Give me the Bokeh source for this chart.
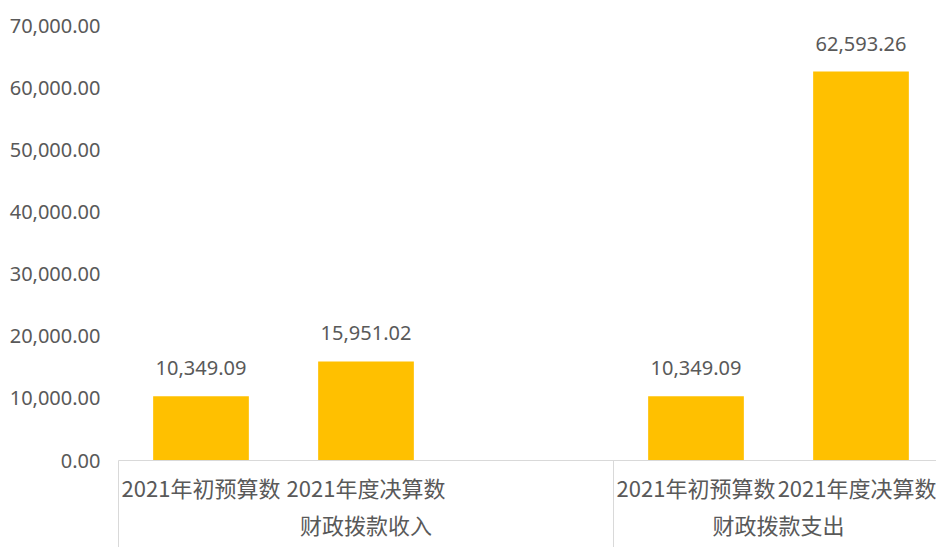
from bokeh.plotting import figure
from bokeh.models import (ColumnDataSource, LabelSet, FixedTicker, NumeralTickFormatter,
                          Range1d, LinearAxis)
from bokeh.core.properties import value
from bokeh.embed import file_html
from bokeh.resources import INLINE

groups = ["财政拨款收入", "财政拨款收入", "财政拨款支出", "财政拨款支出"]
items = ["2021年初预算数", "2021年度决算数", "2021年初预算数", "2021年度决算数"]
values = [10349.09, 15951.02, 10349.09, 62593.26]
group_names = ["财政拨款收入", "财政拨款支出"]
group_slots = [3, 2]          # category slots per group (group 1 keeps one empty slot)
y_ticks = [0, 10000, 20000, 30000, 40000, 50000, 60000, 70000]

# category slot layout -> x positions on the axis scale
group_start, group_center = [], []
acc = 0
for n in group_slots:
    group_start.append(float(acc))
    group_center.append(acc + n / 2)
    acc += n
xpos = []
seen = {}
for g in groups:
    gi = group_names.index(g)
    k = seen.get(g, 0)
    seen[g] = k + 1
    xpos.append(group_start[gi] + k + 0.5)

src = ColumnDataSource(dict(x=xpos, top=values, label=[f"{v:,.2f}" for v in values]))

W, H = 936, 547
SLOT = 165.0
ORIGIN = 118.0          # page x of the first slot's left edge
AXIS_Y = 460.0          # page y of value 0
TOP_Y = 25.0            # page y of value 70000
Y_MAX = 70000
LEFT = ORIGIN - 1
x_start = -(ORIGIN - LEFT) / SLOT
x_end = (W - ORIGIN) / SLOT
y_min = -(H - AXIS_Y) * Y_MAX / (AXIS_Y - TOP_Y)

NUM_FONT = "Noto Sans"
CJK_FONT = "Noto Sans CJK SC"
TXT = "#595959"
GRID = "#D9D9D9"

p = figure(x_range=Range1d(x_start, x_end), y_range=Range1d(y_min, Y_MAX), width=W, height=H,
           output_backend="svg", toolbar_location=None,
           min_border_left=int(LEFT), min_border_right=0,
           min_border_top=int(TOP_Y), min_border_bottom=0)
p.outline_line_color = None
p.xgrid.grid_line_color = None
p.ygrid.grid_line_color = None

p.vbar(x="x", top="top", width=0.58, source=src, color="#FFC000", line_color=None)

labels = LabelSet(x="x", y="top", text="label", source=src, text_align="center",
                  text_baseline="middle", y_offset=28, text_font=value(NUM_FONT),
                  text_font_size="20px", text_color=TXT)
p.add_layout(labels)

ya = p.yaxis[0]
ya.ticker = FixedTicker(ticks=y_ticks)
ya.formatter = NumeralTickFormatter(format="0,0.00")
ya.axis_line_color = None
ya.major_tick_line_color = None
ya.minor_tick_line_color = None
ya.major_tick_out = 0
ya.major_tick_in = 0
ya.major_label_standoff = int(LEFT - 100)
ya.major_label_text_font = NUM_FONT
ya.major_label_text_font_size = "20px"
ya.major_label_text_color = TXT

# category labels
xa = p.xaxis[0]
xa.fixed_location = 0
xa.bounds = (0, 100)
xa.ticker = FixedTicker(ticks=xpos)
xa.major_label_overrides = {x: t for x, t in zip(xpos, items)}
xa.axis_line_color = GRID
xa.major_tick_line_color = None
xa.minor_tick_line_color = None
xa.major_tick_out = 0
xa.major_tick_in = 0
xa.major_label_standoff = 10
xa.major_label_text_font = CJK_FONT
xa.major_label_text_font_size = "22px"
xa.major_label_text_color = TXT

# group labels
ga = LinearAxis(fixed_location=0, ticker=FixedTicker(ticks=group_center),
                major_label_overrides={x: t for x, t in zip(group_center, group_names)},
                axis_line_color=None, major_tick_line_color=None, minor_tick_line_color=None,
                major_tick_out=0, major_tick_in=0, major_label_standoff=47,
                major_label_text_font=CJK_FONT, major_label_text_font_size="22px",
                major_label_text_color=TXT)
p.add_layout(ga, "below")

# group separators
sa = LinearAxis(fixed_location=0, ticker=FixedTicker(ticks=group_start),
                major_label_overrides={x: "" for x in group_start},
                axis_line_color=None, major_tick_line_color=GRID, minor_tick_line_color=None,
                major_tick_out=int(H - AXIS_Y), major_tick_in=0,
                major_label_text_font_size="1px")
p.add_layout(sa, "below")

open("out.html", "w").write(file_html(p, INLINE))
